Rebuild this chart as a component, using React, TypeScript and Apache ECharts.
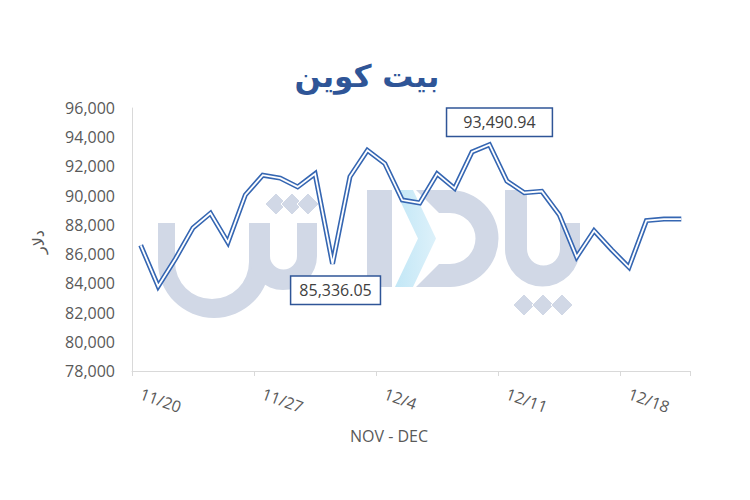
import React, { useEffect, useRef } from 'react';
import * as echarts from 'echarts';

// ---- data ----
const categories: string[] = [
  '11/20', '11/21', '11/22', '11/23', '11/24', '11/25', '11/26',
  '11/27', '11/28', '11/29', '11/30', '12/1', '12/2', '12/3',
  '12/4', '12/5', '12/6', '12/7', '12/8', '12/9', '12/10',
  '12/11', '12/12', '12/13', '12/14', '12/15', '12/16', '12/17',
  '12/18', '12/19', '12/20', '12/21',
];
const prices: number[] = [
  86600, 83800, 85700, 87800, 88800, 86800, 90050,
  91400, 91200, 90600, 91500, 85336.05, 91300, 93100,
  92200, 89700, 89500, 91500, 90500, 93000, 93490.94,
  91000, 90200, 90300, 88700, 85800, 87600, 86300,
  85100, 88300, 88400, 88400,
];
const yMin = 78000;
const yMax = 96000;
const yStep = 2000;
const titleText = 'بیت کوین';
const yName = 'دلار';
const xName = 'NOV - DEC';
const maxIndex = 20;
const minIndex = 11;

// ---- watermark shapes ----
const WM_GRAY = '#D1D8E6';
echarts.graphic.registerShape(
  'wmBowl',
  echarts.graphic.extendPath(
    'M158,223 L175,223 L175,262 A37,37 0 0 0 249,262 L249,223 L270,223 L270,262 A56,56 0 0 1 158,262 Z',
    {}
  ) as any
);
echarts.graphic.registerShape(
  'wmTeeth',
  echarts.graphic.extendPath(
    'M249,223 L270,223 L270,256 A13.5,13.5 0 0 0 297,256 L297,223 L317,223 L317,256 A34,34 0 0 1 249,256 Z',
    {}
  ) as any
);
echarts.graphic.registerShape(
  'wmDal',
  echarts.graphic.extendPath(
    'M416,190 L450,190 A48.5,48.5 0 0 1 450,287 L416,287 L439,264 L450,264 A25.5,25.5 0 0 0 450,213 L439,213 Z',
    {}
  ) as any
);
echarts.graphic.registerShape(
  'wmPa',
  echarts.graphic.extendPath(
    'M505,190 L527,190 L527,249 A16.5,16.5 0 0 0 560,249 L560,223 L580,223 L580,249 A37.5,37.5 0 0 1 505,249 Z',
    {}
  ) as any
);

const diamond = (cx: number, cy: number, h: number) => ({
  type: 'polygon',
  z: 0,
  silent: true,
  shape: { points: [[cx, cy - h], [cx + h, cy], [cx, cy + h], [cx - h, cy]] },
  style: { fill: WM_GRAY, stroke: '#fff', lineWidth: 1 },
});

const fmtLabel = (v: number) =>
  v.toLocaleString('en-US', { minimumFractionDigits: 2, maximumFractionDigits: 2 });

export default function App() {
  const ref = useRef<HTMLDivElement>(null);

  useEffect(() => {
    if (!ref.current) return;
    const chart = echarts.init(ref.current, undefined, { renderer: 'svg' });

    const boxLabel = {
      show: true,
      formatter: (p: any) => fmtLabel(p.value),
      backgroundColor: '#fff',
      borderColor: '#2F5597',
      borderWidth: 1.5,
      fontSize: 16,
      lineHeight: 17,
      color: '#404040',
      fontFamily: 'Open Sans',
    };

    const whiteData = prices.map((v, i) => {
      if (i === maxIndex) {
        return {
          value: v,
          label: { ...boxLabel, position: 'top', distance: 9, offset: [10, 0], padding: [5, 16] },
        };
      }
      if (i === minIndex) {
        return {
          value: v,
          label: { ...boxLabel, position: 'bottom', distance: 13, offset: [3, 0], padding: [5, 8] },
        };
      }
      return { value: v };
    });

    const option: any = {
      animation: false,
      backgroundColor: '#fff',
      grid: { left: 132, top: 108, width: 558, height: 263, containLabel: false },
      xAxis: {
        type: 'category',
        data: categories,
        boundaryGap: true,
        axisLine: { lineStyle: { color: '#D9D9D9', width: 1 } },
        axisTick: { show: true, interval: 6, length: 5, lineStyle: { color: '#D9D9D9' } },
        axisLabel: {
          interval: 6,
          rotate: -20,
          margin: 22,
          fontSize: 16,
          color: '#595959',
          fontFamily: 'Open Sans',
        },
      },
      yAxis: {
        type: 'value',
        min: yMin,
        max: yMax,
        interval: yStep,
        axisLine: { show: true, lineStyle: { color: '#D9D9D9', width: 1 } },
        axisTick: { show: false },
        splitLine: { show: false },
        axisLabel: {
          formatter: (v: number) => v.toLocaleString('en-US'),
          margin: 17,
          fontSize: 16,
          color: '#595959',
          fontFamily: 'Open Sans',
        },
      },
      series: [
        {
          type: 'line',
          data: prices,
          symbol: 'none',
          silent: true,
          z: 3,
          lineStyle: { color: '#3566B2', width: 5, join: 'miter', miterLimit: 10 },
        },
        {
          type: 'line',
          data: whiteData,
          symbol: 'circle',
          symbolSize: 0,
          showSymbol: true,
          showAllSymbol: true,
          silent: true,
          z: 4,
          itemStyle: { color: '#fff' },
          lineStyle: { color: '#fff', width: 1.8, join: 'miter', miterLimit: 10 },
        },
      ],
      graphic: [
        { type: 'wmBowl', z: 0, silent: true, style: { fill: WM_GRAY } },
        { type: 'wmTeeth', z: 0, silent: true, style: { fill: WM_GRAY } },
        diamond(276, 204, 11),
        diamond(292, 204, 11),
        diamond(308, 204, 11),
        {
          type: 'rect',
          z: 0,
          silent: true,
          shape: { x: 367, y: 190, width: 25, height: 97 },
          style: { fill: WM_GRAY },
        },
        { type: 'wmDal', z: 0, silent: true, style: { fill: WM_GRAY } },
        {
          type: 'polygon',
          z: 0,
          silent: true,
          shape: { points: [[395, 190], [413, 190], [436, 238.5], [413, 287], [395, 287], [418, 238.5]] },
          style: {
            fill: new echarts.graphic.LinearGradient(0, 0, 1, 0, [
              { offset: 0, color: '#C2E7F6' },
              { offset: 1, color: '#DDF1FA' },
            ]),
          },
        },
        { type: 'wmPa', z: 0, silent: true, style: { fill: WM_GRAY } },
        diamond(524, 305, 11),
        diamond(543, 305, 11),
        diamond(562, 305, 11),
        {
          type: 'text',
          z: 10,
          x: 367,
          y: 76,
          style: {
            text: titleText,
            fill: '#2F5597',
            font: 'bold 31px "DejaVu Sans"',
            textAlign: 'center',
            textVerticalAlign: 'middle',
          },
        },
        {
          type: 'text',
          z: 10,
          x: 389,
          y: 436,
          style: {
            text: xName,
            fill: '#595959',
            font: '16px "Open Sans"',
            textAlign: 'center',
            textVerticalAlign: 'middle',
          },
        },
        {
          type: 'text',
          z: 10,
          x: 38,
          y: 242,
          rotation: Math.PI / 2,
          style: {
            text: yName,
            fill: '#595959',
            font: '16px "DejaVu Sans"',
            textAlign: 'center',
            textVerticalAlign: 'middle',
          },
        },
      ],
    };

    chart.setOption(option);
    return () => {
      chart.dispose();
    };
  }, []);

  return (
    <div
      ref={ref}
      style={{ position: 'absolute', left: 0, top: 0, width: 750, height: 500 }}
    />
  );
}
